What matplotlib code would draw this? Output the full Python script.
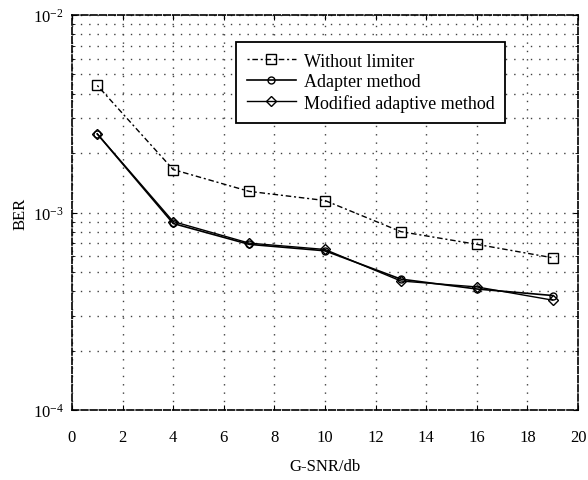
import numpy as np
import matplotlib
matplotlib.use("Agg")
import matplotlib.pyplot as plt
from matplotlib.ticker import LogLocator, FixedLocator

plt.rcParams['font.family'] = ['Liberation Serif', 'DejaVu Serif']
plt.rcParams['mathtext.fontset'] = 'stix'

# Data
snr = [1, 4, 7, 10, 13, 16, 19]
ber_without = [4.4e-3, 1.65e-3, 1.28e-3, 1.15e-3, 8.0e-4, 6.9e-4, 5.9e-4]
ber_adapter = [2.5e-3, 8.8e-4, 6.9e-4, 6.4e-4, 4.6e-4, 4.1e-4, 3.8e-4]
ber_modified = [2.5e-3, 9.0e-4, 7.0e-4, 6.5e-4, 4.5e-4, 4.2e-4, 3.6e-4]
x_ticks = list(range(0, 21, 2))

fig = plt.figure(figsize=(5.88, 4.81), dpi=100)
ax = fig.add_axes([0.1224, 0.1455, 0.8606, 0.8212])

ax.semilogy(snr, ber_without, linestyle='-.', color='black', lw=1.0,
            marker='s', markersize=7, markerfacecolor='none', markeredgewidth=1.0,
            label='Without limiter', dashes=(1.5, 2, 4, 2))
ax.semilogy(snr, ber_adapter, linestyle='-', color='black', lw=1.2,
            marker='o', markersize=5, markerfacecolor='none', markeredgewidth=1.0,
            label='Adapter method')
ax.semilogy(snr, ber_modified, linestyle='-', color='black', lw=1.0,
            marker='D', markersize=5, markerfacecolor='none', markeredgewidth=1.0,
            label='Modified adaptive method')

ax.set_xlim(0, 20)
ax.set_ylim(1e-4, 1e-2)
ax.xaxis.set_major_locator(FixedLocator(x_ticks))
ax.yaxis.set_major_locator(LogLocator(base=10))
ax.yaxis.set_minor_locator(LogLocator(base=10, subs=np.arange(2, 10)))
ax.yaxis.set_minor_formatter(plt.NullFormatter())

ax.grid(True, which='major', linestyle=(0, (1, 5)), color='0.25', lw=1.0)
ax.grid(True, which='minor', axis='y', linestyle=(0, (1, 5)), color='0.25', lw=1.0)
ax.tick_params(direction='in', which='both', top=True, right=True, labelsize=12)
ax.tick_params(axis='x', pad=14)
ax.tick_params(axis='y', pad=6)
for s in ax.spines.values():
    s.set_linewidth(1.2)
    s.set_linestyle((0, (4, 1.5)))

ax.set_xlabel('G-SNR/db', fontsize=12, labelpad=9)
ax.set_ylabel('BER', fontsize=12, labelpad=3)

leg = ax.legend(loc='upper left', bbox_to_anchor=(0.324, 0.932), fontsize=13,
                fancybox=False, edgecolor='black', framealpha=1,
                handlelength=2.7, borderpad=0.6, labelspacing=0.2,
                handletextpad=0.45, borderaxespad=0)
leg.get_frame().set_linewidth(1.3)

fig.savefig('out.png', dpi=100)
